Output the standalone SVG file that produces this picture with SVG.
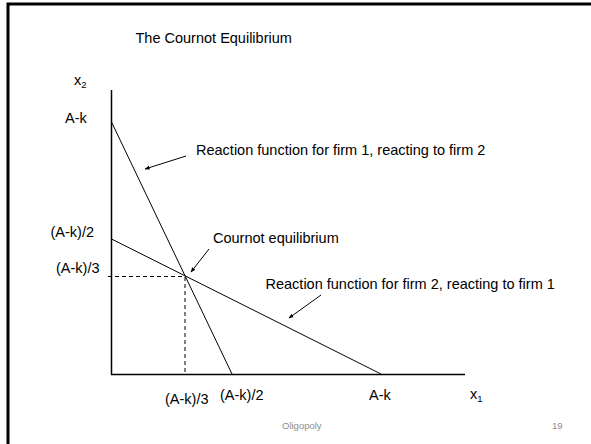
<svg xmlns="http://www.w3.org/2000/svg" width="591" height="444" viewBox="0 0 591 444">
<style>
  text { font-family: "Liberation Sans", Arial, sans-serif; fill: #000; }
  .lbl { font-size: 14.5px; }
  .sub { font-size: 9.5px; }
  .foot { font-size: 9.5px; fill: #8c8c8c; }
  .axis { stroke: #000; stroke-width: 1.5; fill: none; }
  .curve { stroke: #000; stroke-width: 1; fill: none; }
  .dash { stroke: #000; stroke-width: 1; stroke-dasharray: 4 3; fill: none; }
  .ptr { stroke: #000; stroke-width: 1; fill: none; marker-end: url(#ah); }
</style>
<defs>
  <marker id="ah" viewBox="0 0 10 10" refX="9" refY="5" markerWidth="5" markerHeight="5" orient="auto" markerUnits="userSpaceOnUse">
    <path d="M0,1 L10,5 L0,9 z" fill="#000"/>
  </marker>
</defs>
<rect width="591" height="444" fill="#fff"/>
<g id="frame">
  <path d="M8,444 L8,4 L591,4" stroke="#000" stroke-width="3" fill="none"/>
</g>
<g id="title"><text class="lbl" x="135.5" y="43">The Cournot Equilibrium</text></g>
<g id="axes">
  <path class="axis" d="M111.5,90 L111.5,374.5 L465,374.5"/>
  <text class="lbl" x="74" y="85">x<tspan class="sub" dy="3">2</tspan></text>
  <text class="lbl" x="470" y="399">x<tspan class="sub" dy="3">1</tspan></text>
</g>
<g id="ticks">
  <text class="lbl" x="65" y="123">A-k</text>
  <text class="lbl" x="50.5" y="237">(A-k)/2</text>
  <text class="lbl" x="56" y="273">(A-k)/3</text>
  <text class="lbl" x="165" y="404">(A-k)/3</text>
  <text class="lbl" x="220" y="400">(A-k)/2</text>
  <text class="lbl" x="369" y="400">A-k</text>
</g>
<g id="reaction1">
  <line class="curve" x1="111.5" y1="122" x2="232" y2="374"/>
  <text class="lbl" x="196" y="155">Reaction function for firm 1, reacting to firm 2</text>
</g>
<g id="reaction2">
  <line class="curve" x1="111.5" y1="239" x2="381" y2="374"/>
  <text class="lbl" x="265.5" y="289">Reaction function for firm 2, reacting to firm 1</text>
</g>
<g id="equilibrium">
  <text class="lbl" x="213" y="243">Cournot equilibrium</text>
</g>
<g id="connectors">
  <line class="dash" x1="108" y1="276.5" x2="185" y2="276.5"/>
  <line class="dash" x1="185" y1="277" x2="185" y2="374"/>
  <line class="ptr" x1="186" y1="156" x2="145" y2="169"/>
  <line class="ptr" x1="209" y1="249" x2="191" y2="272"/>
  <line class="ptr" x1="321" y1="295" x2="289" y2="318"/>
</g>
<g id="footer">
  <text class="foot" x="282" y="429">Oligopoly</text>
  <text class="foot" x="552" y="429">19</text>
</g>
</svg>
